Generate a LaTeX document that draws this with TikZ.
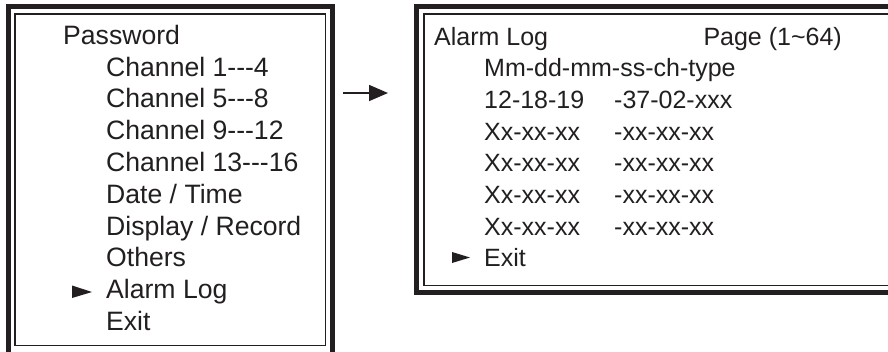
\documentclass[tikz,border=0pt]{standalone}
\usepackage{fontspec}
\setmainfont{Liberation Sans}
\usetikzlibrary{arrows.meta}
\definecolor{ink}{RGB}{35,31,32}
\tikzset{
  outerframe/.style={draw=ink, line width=5pt},
  innerframe/.style={draw=ink, line width=1.6pt},
  lt/.style={anchor=base west, inner sep=0pt, text=ink, font=\fontsize{26.6}{30}\selectfont},
  rt/.style={anchor=base west, inner sep=0pt, text=ink, font=\fontsize{25}{30}\selectfont},
  marker/.style={fill=ink},
}
\begin{document}
\begin{tikzpicture}[x=1pt,y=-1pt]
\useasboundingbox (0,0) rectangle (888,351);
\clip (0,0) rectangle (888,351);
\fill[white] (0,0) rectangle (888,351);
% left frame
\draw[outerframe] (8.5,6.5) rectangle (332.5,354);
\draw[innerframe] (15,14) rectangle (325.5,345.5);
% right frame
\draw[outerframe] (416.5,6.5) rectangle (900,292.5);
\draw[innerframe] (424,14) rectangle (895,285.5);
% left menu
\node[lt] (pw) at (63,44.3) {Password};
\node[lt] (c1) at (106,76.1) {Channel 1-{}-{}-4};
\node[lt] (c2) at (106,107.9) {Channel 5-{}-{}-8};
\node[lt] (c3) at (106,139.7) {Channel 9-{}-{}-12};
\node[lt] (c4) at (106,171.5) {Channel 13-{}-{}-16};
\node[lt] (dt) at (106,203.3) {Date / Time};
\node[lt] (dr) at (106,235.1) {Display / Record};
\node[lt] (ot) at (106,266.9) {Others};
\node[lt] (al) at (106,298.7) {Alarm Log};
\node[lt] (ex) at (106,330.5) {Exit};
\fill[marker] (72,285.5) -- (72,298) -- (92,292) -- cycle;
% arrow
\coordinate (a1) at (343,93);
\coordinate (a2) at (388,93);
\draw[ink, line width=1.6pt, -{Triangle[length=19pt,width=16pt]}] (a1) -- (a2);
% right screen
\node[rt] (t1) at (434,45) {Alarm Log};
\node[rt, anchor=base east] (pg) at (842,45) {Page (1\textasciitilde 64)};
\node[rt] (hd) at (484,76.7) {Mm-dd-mm-ss-ch-type};
\node[rt] (r1a) at (484,108.4) {12-18-19};
\node[rt] (r1b) at (614,108.4) {-37-02-xxx};
\node[rt] (r2a) at (484,140.1) {Xx-xx-xx};
\node[rt] (r2b) at (614,140.1) {-xx-xx-xx};
\node[rt] (r3a) at (484,171.8) {Xx-xx-xx};
\node[rt] (r3b) at (614,171.8) {-xx-xx-xx};
\node[rt] (r4a) at (484,203.5) {Xx-xx-xx};
\node[rt] (r4b) at (614,203.5) {-xx-xx-xx};
\node[rt] (r5a) at (484,235.2) {Xx-xx-xx};
\node[rt] (r5b) at (614,235.2) {-xx-xx-xx};
\node[rt] (rex) at (484,266.9) {Exit};
\fill[marker] (452,252) -- (452,263) -- (470,257.5) -- cycle;
\end{tikzpicture}
\end{document}
